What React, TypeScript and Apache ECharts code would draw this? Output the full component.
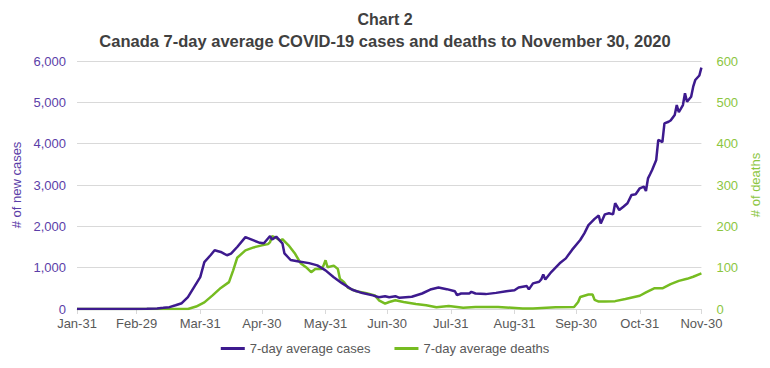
import React, { useEffect, useRef } from "react";
import * as echarts from "echarts";

const MONTHS = ["Jan", "Feb", "Mar", "Apr", "May", "Jun", "Jul", "Aug", "Sep", "Oct", "Nov", "Dec"];
const tickLabels = ["Jan-31", "Feb-29", "Mar-31", "Apr-30", "May-31", "Jun-30", "Jul-31", "Aug-31", "Sep-30", "Oct-31", "Nov-30"];

// daily categories Jan-31 .. Nov-30 2020
const categories: string[] = [];
for (let t = Date.UTC(2020, 0, 31); t <= Date.UTC(2020, 10, 30); t += 86400000) {
  const d = new Date(t);
  categories.push(`${MONTHS[d.getUTCMonth()]}-${String(d.getUTCDate()).padStart(2, "0")}`);
}

const casesPoints: [string, number][] = [
  ["Jan-31", 0], ["Feb-15", 0], ["Feb-29", 2], ["Mar-05", 5], ["Mar-10", 12], ["Mar-13", 28],
  ["Mar-16", 45], ["Mar-19", 90], ["Mar-22", 140], ["Mar-25", 286], ["Mar-28", 530], ["Mar-31", 770],
  ["Apr-02", 1135], ["Apr-05", 1300], ["Apr-07", 1420], ["Apr-10", 1380], ["Apr-13", 1300], ["Apr-15", 1340],
  ["Apr-18", 1500], ["Apr-22", 1740], ["Apr-26", 1660], ["Apr-29", 1600], ["May-01", 1590], ["May-04", 1765],
  ["May-05", 1680], ["May-07", 1750], ["May-10", 1590], ["May-11", 1345], ["May-14", 1185], ["May-18", 1150],
  ["May-23", 1110], ["May-27", 1055], ["May-31", 935], ["Jun-04", 770], ["Jun-08", 625], ["Jun-13", 465],
  ["Jun-18", 385], ["Jun-23", 330], ["Jun-26", 285], ["Jun-29", 310], ["Jul-01", 285], ["Jul-04", 310],
  ["Jul-06", 270], ["Jul-12", 295], ["Jul-17", 375], ["Jul-21", 470], ["Jul-25", 520], ["Jul-29", 480],
  ["Aug-02", 430], ["Aug-03", 335], ["Aug-05", 375], ["Aug-09", 375], ["Aug-10", 415], ["Aug-12", 375],
  ["Aug-17", 360], ["Aug-22", 390], ["Aug-27", 430], ["Aug-31", 455], ["Sep-02", 520], ["Sep-06", 555],
  ["Sep-07", 475], ["Sep-09", 620], ["Sep-12", 660], ["Sep-13", 715], ["Sep-14", 835], ["Sep-15", 715],
  ["Sep-18", 900], ["Sep-22", 1105], ["Sep-25", 1225], ["Sep-28", 1430], ["Oct-02", 1670], ["Oct-04", 1830],
  ["Oct-06", 2030], ["Oct-09", 2180], ["Oct-11", 2260], ["Oct-12", 2070], ["Oct-14", 2290], ["Oct-16", 2315],
  ["Oct-18", 2290], ["Oct-19", 2560], ["Oct-21", 2395], ["Oct-23", 2475], ["Oct-25", 2560], ["Oct-27", 2760],
  ["Oct-29", 2775], ["Oct-31", 2920], ["Nov-02", 2960], ["Nov-03", 2855], ["Nov-04", 3160], ["Nov-05", 3260],
  ["Nov-06", 3365], ["Nov-08", 3605], ["Nov-09", 4090], ["Nov-10", 4065], ["Nov-11", 4040], ["Nov-12", 4490],
  ["Nov-14", 4530], ["Nov-15", 4560], ["Nov-17", 4695], ["Nov-18", 4935], ["Nov-19", 4760], ["Nov-21", 4935],
  ["Nov-22", 5220], ["Nov-23", 5015], ["Nov-25", 5135], ["Nov-26", 5380], ["Nov-27", 5540], ["Nov-29", 5650],
  ["Nov-30", 5840],
];

const deathsPoints: [string, number][] = [
  ["Jan-31", 0], ["Mar-25", 0], ["Mar-29", 6], ["Apr-02", 16], ["Apr-06", 33], ["Apr-10", 51],
  ["Apr-14", 65], ["Apr-16", 93], ["Apr-18", 124], ["Apr-22", 142], ["Apr-26", 149], ["Apr-30", 154],
  ["May-03", 157], ["May-04", 162], ["May-05", 176], ["May-07", 172], ["May-09", 165], ["May-10", 169],
  ["May-13", 154], ["May-16", 135], ["May-19", 110], ["May-22", 99], ["May-24", 89], ["May-26", 97],
  ["May-29", 97], ["May-30", 105], ["May-31", 118], ["Jun-01", 101], ["Jun-04", 105], ["Jun-06", 97],
  ["Jun-07", 73], ["Jun-09", 65], ["Jun-11", 51], ["Jun-15", 43], ["Jun-20", 38], ["Jun-24", 33],
  ["Jun-26", 21], ["Jun-29", 13], ["Jul-01", 17], ["Jul-04", 21], ["Jul-08", 17], ["Jul-14", 12],
  ["Jul-19", 9], ["Jul-24", 4], ["Jul-30", 7], ["Aug-06", 3], ["Aug-12", 5], ["Aug-23", 5],
  ["Sep-04", 1], ["Sep-09", 1], ["Sep-20", 4], ["Sep-29", 5], ["Oct-01", 17], ["Oct-02", 29],
  ["Oct-04", 32], ["Oct-06", 35], ["Oct-08", 35], ["Oct-09", 22], ["Oct-11", 18], ["Oct-14", 18],
  ["Oct-19", 19], ["Oct-24", 24], ["Oct-31", 32], ["Nov-03", 40], ["Nov-07", 50], ["Nov-11", 50],
  ["Nov-15", 60], ["Nov-19", 68], ["Nov-23", 73], ["Nov-26", 78], ["Nov-30", 86],
];

const seriesNames = ["7-day average cases", "7-day average deaths"];

const toIdx = (pts: [string, number][]) => pts.map(([d, v]) => [categories.indexOf(d), v]);

const FONT = "'Liberation Sans', Arial, sans-serif";

export default function App() {
  const ref = useRef<HTMLDivElement>(null);
  useEffect(() => {
    if (!ref.current) return;
    const chart = echarts.init(ref.current, undefined, { renderer: "svg" });
    const showTick = (i: number) => tickLabels.includes(categories[i]);
    chart.setOption({
      animation: false,
      textStyle: { fontFamily: FONT },
      title: [
        {
          text: "Chart 2",
          left: "center",
          top: 6,
          textStyle: { fontFamily: FONT, fontSize: 16, fontWeight: "bold", color: "#404040" },
        },
        {
          text: "Canada 7-day average COVID-19 cases and deaths to November 30, 2020",
          left: "center",
          top: 27,
          textStyle: { fontFamily: FONT, fontSize: 16.5, fontWeight: "bold", color: "#404040" },
        },
      ],
      grid: { left: 77, right: 67, top: 61, bottom: 59 },
      legend: {
        data: seriesNames,
        bottom: 8,
        left: "center",
        icon: "rect",
        itemWidth: 24,
        itemHeight: 3,
        itemGap: 24,
        textStyle: { fontFamily: FONT, fontSize: 13, color: "#595959" },
      },
      xAxis: {
        type: "category",
        data: categories,
        boundaryGap: false,
        axisLine: { lineStyle: { color: "#d9d9d9" } },
        axisTick: { interval: (i: number) => showTick(i), length: 5, lineStyle: { color: "#d9d9d9" } },
        axisLabel: {
          interval: (i: number) => showTick(i),
          color: "#595959",
          fontSize: 13,
          fontFamily: FONT,
          margin: 8,
        },
        splitLine: { show: false },
      },
      yAxis: [
        {
          type: "value",
          min: 0,
          max: 6000,
          interval: 1000,
          name: "# of new cases",
          nameLocation: "middle",
          nameGap: 52,
          nameTextStyle: { color: "#5b3ea8", fontSize: 13, fontFamily: FONT },
          axisLabel: {
            color: "#5b3ea8",
            fontSize: 13,
            fontFamily: FONT,
            margin: 11,
            formatter: (v: number) => v.toLocaleString("en-US"),
          },
          axisLine: { show: false },
          axisTick: { show: false },
          splitLine: { lineStyle: { color: "#d9d9d9" } },
        },
        {
          type: "value",
          min: 0,
          max: 600,
          interval: 100,
          name: "# of deaths",
          nameLocation: "middle",
          nameGap: 46,
          nameRotate: 90,
          nameTextStyle: { color: "#8cc63f", fontSize: 13, fontFamily: FONT },
          axisLabel: { color: "#8cc63f", fontSize: 13, fontFamily: FONT, margin: 15 },
          axisLine: { show: false },
          axisTick: { show: false },
          splitLine: { show: false },
        },
      ],
      series: [
        {
          name: seriesNames[0],
          type: "line",
          yAxisIndex: 0,
          data: toIdx(casesPoints),
          showSymbol: false,
          symbol: "none",
          lineStyle: { color: "#3d1a8e", width: 2.5 },
          itemStyle: { color: "#3d1a8e" },
          z: 3,
        },
        {
          name: seriesNames[1],
          type: "line",
          yAxisIndex: 1,
          data: toIdx(deathsPoints),
          showSymbol: false,
          symbol: "none",
          lineStyle: { color: "#76bc21", width: 2.5 },
          itemStyle: { color: "#76bc21" },
          z: 2,
        },
      ],
    });
    return () => chart.dispose();
  }, []);
  return <div ref={ref} style={{ width: 770, height: 368, margin: -8 }} />;
}
